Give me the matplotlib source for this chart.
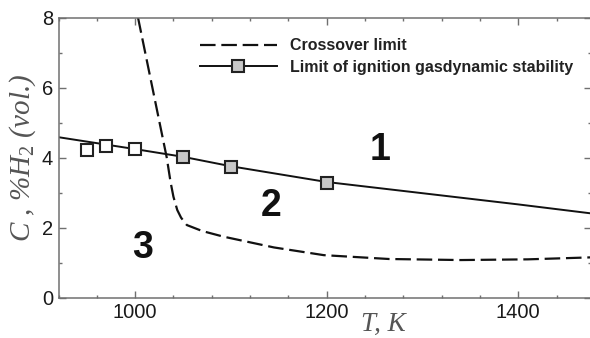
import matplotlib
matplotlib.use("Agg")
import matplotlib.pyplot as plt
from matplotlib.lines import Line2D
from matplotlib.ticker import MultipleLocator

plt.rcParams['font.family'] = ['Liberation Sans', 'DejaVu Sans']
plt.rcParams['mathtext.fontset'] = 'custom'
plt.rcParams['mathtext.rm'] = 'Liberation Serif'
plt.rcParams['mathtext.it'] = 'Liberation Serif:italic'

# crossover limit (dashed)
cross_T = [1003, 1010.5, 1018, 1025.5, 1033, 1037, 1040, 1044, 1048, 1054,
           1070, 1092, 1145, 1197, 1265, 1340, 1410, 1480]
cross_C = [8.0, 7.0, 6.0, 5.0, 4.0, 3.3, 2.88, 2.5, 2.28, 2.07,
           1.9, 1.74, 1.43, 1.21, 1.1, 1.07, 1.09, 1.15]

# limit of ignition gasdynamic stability (fitted line)
stab_T = [920, 1000, 1050, 1100, 1200, 1300, 1400, 1480]
stab_C = [4.58, 4.24, 4.02, 3.75, 3.30, 2.98, 2.66, 2.39]

# measured points
open_T = [950, 970, 1000]
open_C = [4.21, 4.34, 4.23]
filled_T = [1050, 1100, 1200]
filled_C = [4.01, 3.72, 3.26]

# region numbers
region_names = ['1', '2', '3']
region_T = [1256, 1142, 1008]
region_C = [4.21, 2.6, 1.41]

fig = plt.figure(figsize=(5.9, 3.38), dpi=100)
ax = fig.add_axes([58.5 / 590, 40.5 / 338, 532.5 / 590, 280 / 338])

dash = (0, (7, 2.6))
ax.plot(cross_T, cross_C, color='#111111', lw=1.6, linestyle=dash)
ax.plot(stab_T, stab_C, color='#111111', lw=1.4)
ax.plot(open_T, open_C, linestyle='none', marker='s', ms=8.5,
        mfc='white', mec='#222222', mew=1.5)
ax.plot(filled_T, filled_C, linestyle='none', marker='s', ms=8.5,
        mfc='#c8c8c8', mec='#222222', mew=1.5)

for name, t, c in zip(region_names, region_T, region_C):
    ax.text(t, c, name, fontsize=27, fontweight='bold', color='#111111',
            ha='center', va='center')

handles = [
    Line2D([], [], color='#111111', lw=1.6, linestyle=dash),
    Line2D([], [], color='#111111', lw=1.4, marker='s', ms=8,
           mfc='#c8c8c8', mec='#222222', mew=1.5),
]
labels = ['Crossover limit', 'Limit of ignition gasdynamic stability']
ax.legend(handles, labels, loc='upper left', bbox_to_anchor=(0.266, 0.925),
          frameon=False, handlelength=4.8, handletextpad=0.8,
          labelspacing=0.4, borderpad=0, borderaxespad=0,
          prop={'weight': 'bold', 'size': 11.5}, labelcolor='#222222')

ax.set_xlim(920, 1476)
ax.set_ylim(0, 8)
ax.xaxis.set_major_locator(MultipleLocator(200))
ax.xaxis.set_minor_locator(MultipleLocator(40))
ax.yaxis.set_major_locator(MultipleLocator(2))
ax.yaxis.set_minor_locator(MultipleLocator(1))
ax.tick_params(which='both', direction='in', top=True, right=True,
               color='#707070', width=1.0)
ax.tick_params(which='major', length=5, labelsize=14.5, labelcolor='#1a1a1a', pad=4)
ax.tick_params(which='minor', length=2.5)
for sp in ax.spines.values():
    sp.set_color('#707070')
    sp.set_linewidth(1.1)

ax.set_ylabel(r'$C$ , %H$_2$ (vol.)', fontsize=21, family='Liberation Serif',
              style='italic', color='#555555')
ax.yaxis.set_label_coords(-0.038, 0.5)
ax.set_xlabel('T, K', fontsize=19.5, family='Liberation Serif',
              style='italic', color='#555555')
ax.xaxis.set_label_coords((383 - 58.5) / 532.5, -0.052)

fig.savefig('out.png', dpi=100)
